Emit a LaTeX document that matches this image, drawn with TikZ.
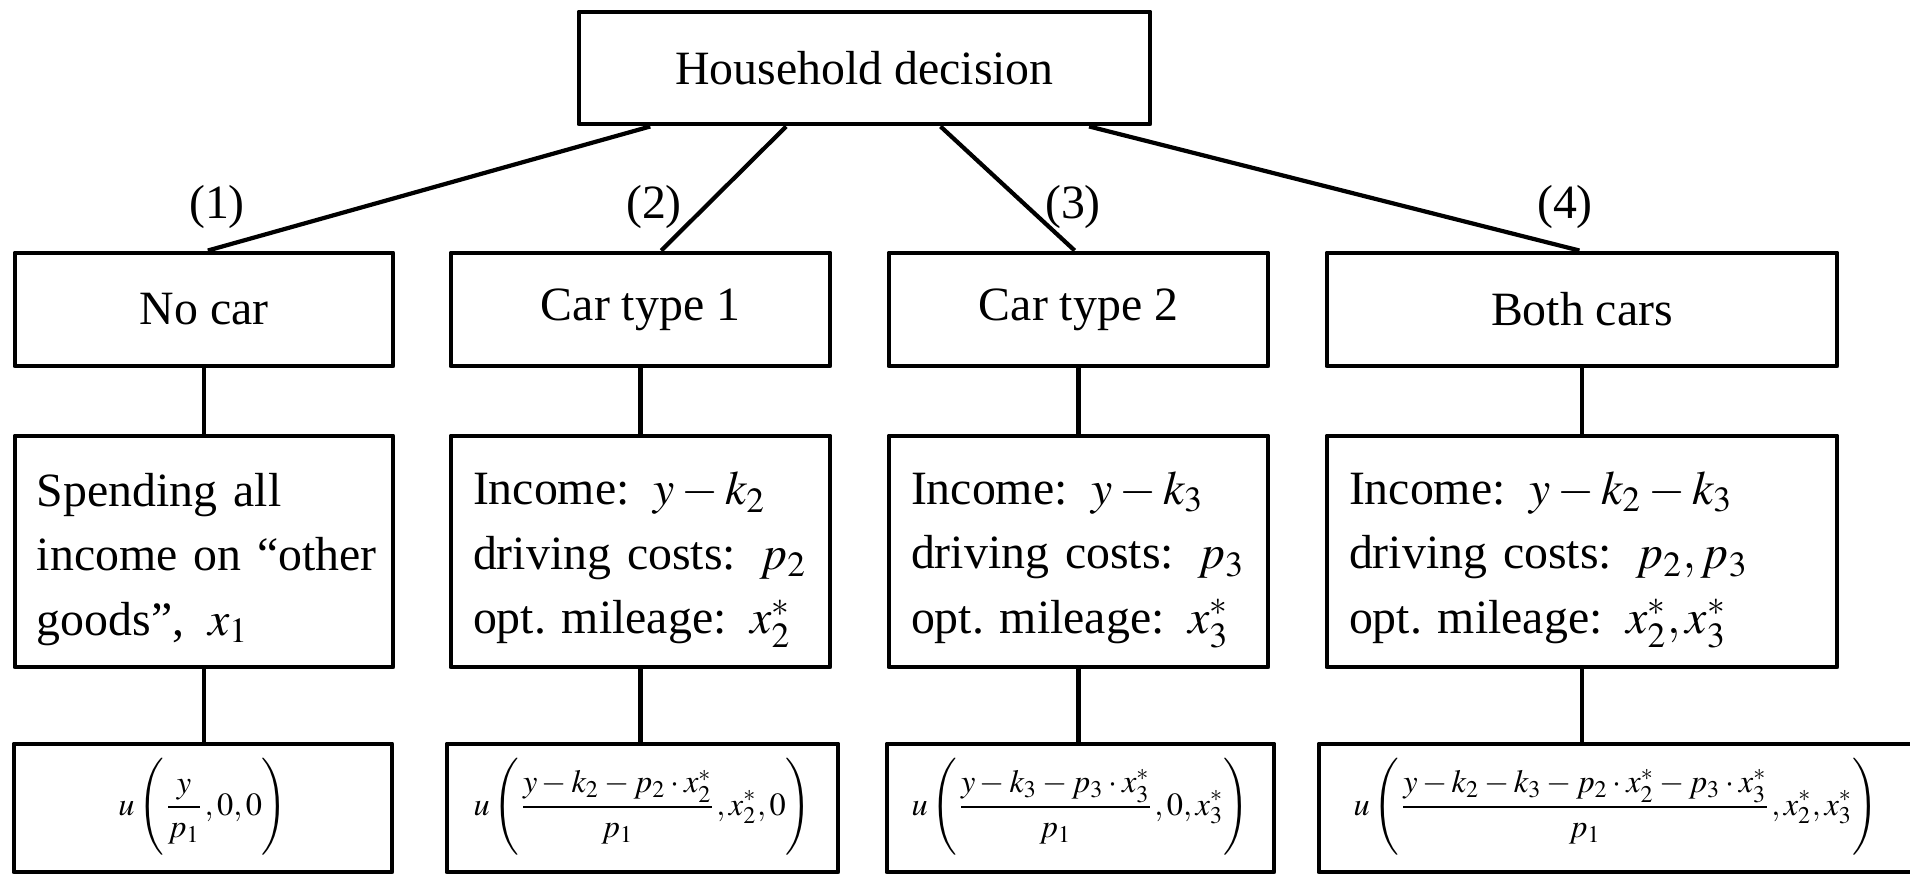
\documentclass[tikz,border=0pt]{standalone}
\usepackage{mathptmx}
\usepackage{fontspec}
\setmainfont{Liberation Serif}
\usetikzlibrary{calc,positioning}
\newcommand{\topgap}{\rule{0pt}{14pt}}

\begin{document}
\begin{tikzpicture}[
    box/.style={draw,line width=1.4pt,line join=round,inner sep=0pt,font=\frenchspacing\fontsize{13.6}{18.3}\selectfont},
    info/.style={box,align=left,inner xsep=0.22cm,minimum height=2.31cm},
    util/.style={box,font=\fontsize{9.2}{11}\selectfont,minimum height=1.28cm},
    link/.style={line width=1.2pt},
    num/.style={font=\fontsize{13.6}{16}\selectfont}]
  \useasboundingbox (0,0) rectangle (19.10,8.74);
  % top of the tree
  \node[box,minimum width=5.71cm,minimum height=1.12cm] (hh) at (8.645,8.06) {Household decision};
  % the four options
  \node[box,minimum width=3.78cm,minimum height=1.13cm] (nocar) at (2.04,5.645) {No car};
  \node[box,minimum width=3.79cm,minimum height=1.13cm] (car1) at (6.405,5.645) {Car type 1};
  \node[box,minimum width=3.79cm,minimum height=1.13cm] (car2) at (10.785,5.645) {Car type 2};
  \node[box,minimum width=5.10cm,minimum height=1.13cm] (both) at (15.82,5.645) {Both cars};
  \node[num] (n1) at (2.17,6.67) {(1)};
  \node[num] (n2) at (6.54,6.67) {(2)};
  \node[num] (n3) at (10.73,6.67) {(3)};
  \node[num] (n4) at (15.65,6.67) {(4)};
  % budgets
  \node[info,text width=3.34cm] (nocarB) at (2.04,3.225)
    {\topgap\mbox{Spending all}\\\mbox{income on “other}\\\mbox{goods”,\enskip$x_1$}};
  \node[info,text width=3.35cm] (car1B) at (6.405,3.225)
    {\topgap\mbox{Income:\enskip$y-k_2$}\\\mbox{driving costs:\enskip$p_2$}\\\mbox{opt. mileage:\enskip$x_2^*$}};
  \node[info,text width=3.35cm] (car2B) at (10.785,3.225)
    {\topgap\mbox{Income:\enskip$y-k_3$}\\\mbox{driving costs:\enskip$p_3$}\\\mbox{opt. mileage:\enskip$x_3^*$}};
  \node[info,text width=4.66cm] (bothB) at (15.82,3.225)
    {\topgap\mbox{Income:\enskip$y-k_2-k_3$}\\\mbox{driving costs:\enskip$p_2,p_3$}\\\mbox{opt. mileage:\enskip$x_2^*,x_3^*$}};
  % utilities (the last box runs off the right edge)
  \node[util,minimum width=3.78cm] (nocarU) at (2.03,0.66)
    {$\displaystyle u\left(\vrule height 17pt depth 13pt width 0pt\frac{y}{p_1},0,0\right)$};
  \node[util,minimum width=3.91cm] (car1U) at (6.425,0.66)
    {$\displaystyle u\left(\vrule height 17pt depth 13pt width 0pt\frac{y-k_2-p_2\cdot x_2^*}{p_1},x_2^*,0\right)$};
  \node[util,minimum width=3.87cm] (car2U) at (10.805,0.66)
    {$\displaystyle u\left(\vrule height 17pt depth 13pt width 0pt\frac{y-k_3-p_3\cdot x_3^*}{p_1},0,x_3^*\right)$};
  \node[util,minimum width=5.94cm] (bothU) at (16.16,0.66)
    {$\displaystyle u\left(\vrule height 17pt depth 13pt width 0pt\frac{y-k_2-k_3-p_2\cdot x_2^*-p_3\cdot x_3^*}{p_1},x_2^*,x_3^*\right)$};
  % connectors
  \draw[link] ($(hh.south west)!0.128!(hh.south east)$) -- ($(nocar.north west)!0.51!(nocar.north east)$);
  \draw[link] ($(hh.south west)!0.364!(hh.south east)$) -- ($(car1.north west)!0.554!(car1.north east)$);
  \draw[link] ($(hh.south west)!0.632!(hh.south east)$) -- ($(car2.north west)!0.49!(car2.north east)$);
  \draw[link] ($(hh.south west)!0.89!(hh.south east)$) -- ($(both.north west)!0.495!(both.north east)$);
  \foreach \k in {nocar,car1,car2,both} {
    \draw[link] (\k.south) -- (\k B.north);
    \draw[link] (\k B.south) -- (\k B.south |- \k U.north);
  }
\end{tikzpicture}
\end{document}
